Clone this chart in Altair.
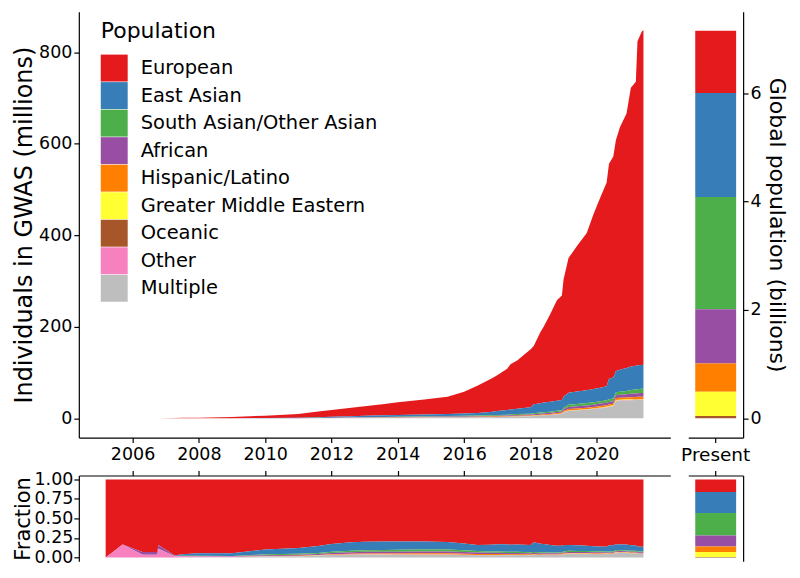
import altair as alt
import pandas as pd

years = [2005.19, 2005.70, 2006.30, 2006.75, 2006.78, 2007.27, 2007.50, 2008.00, 2009.00, 2010.00,
         2011.00, 2011.60, 2012.00, 2012.60, 2013.00, 2013.60, 2014.00, 2014.80, 2015.50, 2016.00,
         2016.40, 2016.80, 2017.00, 2017.30, 2017.40, 2017.60, 2018.00, 2018.10, 2018.30, 2018.40,
         2018.60, 2018.80, 2018.95, 2019.00, 2019.15, 2019.40, 2019.70, 2019.90, 2020.07, 2020.30,
         2020.37, 2020.50, 2020.58, 2020.70, 2020.90, 2021.03, 2021.18, 2021.23, 2021.36, 2021.41]

populations = ["European", "East Asian", "South Asian/Other Asian", "African", "Hispanic/Latino",
               "Greater Middle Eastern", "Oceanic", "Other", "Multiple"]
colors = ["#E41A1C", "#377EB8", "#4DAF4A", "#984EA3", "#FF7F00", "#FFFF33", "#A65628", "#F781BF", "#BEBEBE"]

# cumulative individuals in GWAS (millions)
european = [0.0001, 0.001, 0.0279, 0.0558, 0.084, 0.781, 0.958, 1.231, 2.843, 4.945,
            8.35, 12.83, 14.88, 18.53, 20.76, 24.63, 27.81, 32.58, 37.65, 47.73,
            59.61, 72.07, 78.0, 89.87, 98.69, 105.32, 125.98, 127.21, 155.11, 165.84,
            192.01, 219.62, 227.85, 255.28, 294.23, 317.75, 343.89, 381.03, 409.66, 445.28,
            469.72, 483.07, 504.72, 529.97, 556.32, 608.96, 620.41, 708.37, 728.62, 730.92]
east_asian = [0, 0, 0, 0, 0, 0.003, 0.02, 0.04, 0.10, 0.34,
              0.72, 1.3, 1.8, 2.5, 2.85, 3.4, 3.8, 4.3, 4.6, 5.0,
              5.6, 7.3, 8.8, 10.2, 10.8, 11.6, 14, 20, 20.5, 21,
              21.5, 22, 22.5, 24.5, 26, 27, 28, 29, 29.5, 30.5,
              45, 46, 46.5, 48, 50, 51.5, 52, 52, 52, 52.5]
south_asian = [0, 0, 0, 0, 0, 0, 0.003, 0.005, 0.01, 0.06,
               0.12, 0.2, 0.3, 0.45, 0.55, 0.7, 0.8, 1.0, 1.15, 1.25,
               1.35, 1.5, 1.6, 1.7, 1.8, 1.9, 2.0, 2.1, 2.3, 2.4,
               2.45, 2.5, 2.7, 3.8, 5.0, 5.1, 5.2, 5.3, 5.4, 5.5,
               5.6, 5.8, 6.5, 6.8, 7.4, 8.2, 8.6, 9.0, 9.3, 9.5]
african = [0, 0, 0.00105, 0.0021, 0.005, 0.005, 0.006, 0.007, 0.02, 0.06,
           0.12, 0.2, 0.3, 0.45, 0.55, 0.7, 0.8, 1.0, 1.15, 1.25,
           1.35, 1.5, 1.6, 1.7, 1.8, 1.9, 2.0, 2.1, 2.3, 2.4,
           2.5, 2.6, 2.8, 3.6, 4.6, 4.8, 4.9, 5.0, 5.1, 5.2,
           5.4, 5.6, 6.1, 6.4, 6.8, 7.2, 7.5, 7.8, 8.0, 8.0]
hispanic = [0, 0, 0, 0, 0, 0, 0, 0.002, 0.005, 0.02,
            0.05, 0.08, 0.12, 0.2, 0.25, 0.35, 0.45, 0.55, 0.65, 0.75,
            0.85, 0.95, 1.0, 1.1, 1.15, 1.2, 1.3, 1.35, 1.5, 1.55,
            1.65, 1.8, 1.9, 2.4, 3.0, 3.1, 3.2, 3.3, 3.4, 3.5,
            3.7, 3.9, 4.4, 4.5, 4.6, 4.7, 4.8, 4.9, 5.0, 5.0]
middle_eastern = [0, 0, 0, 0, 0, 0, 0, 0, 0, 0,
                  0, 0.01, 0.01, 0.02, 0.03, 0.04, 0.05, 0.06, 0.07, 0.08,
                  0.09, 0.1, 0.11, 0.12, 0.13, 0.14, 0.15, 0.16, 0.18, 0.19,
                  0.22, 0.25, 0.28, 0.4, 0.55, 0.6, 0.63, 0.66, 0.7, 0.75,
                  0.78, 0.8, 0.88, 0.9, 0.92, 0.95, 0.97, 0.98, 1.0, 1.0]
oceanic = [0, 0, 0, 0, 0, 0, 0, 0, 0, 0,
           0, 0, 0, 0.005, 0.005, 0.01, 0.01, 0.01, 0.02, 0.02,
           0.02, 0.03, 0.03, 0.03, 0.04, 0.04, 0.05, 0.05, 0.06, 0.06,
           0.07, 0.08, 0.09, 0.1, 0.12, 0.13, 0.14, 0.15, 0.16, 0.17,
           0.18, 0.19, 0.22, 0.23, 0.24, 0.25, 0.26, 0.27, 0.28, 0.28]
other = [0, 0.0002, 0.00105, 0.0021, 0.011, 0.011, 0.011, 0.011, 0.012, 0.015,
         0.02, 0.03, 0.04, 0.05, 0.06, 0.07, 0.08, 0.10, 0.11, 0.12,
         0.13, 0.15, 0.16, 0.18, 0.19, 0.2, 0.22, 0.23, 0.25, 0.26,
         0.3, 0.35, 0.38, 0.42, 0.5, 0.52, 0.54, 0.56, 0.58, 0.6,
         0.62, 0.64, 0.68, 0.7, 0.72, 0.74, 0.76, 0.78, 0.8, 0.8]
multiple = [0, 0, 0, 0, 0, 0, 0.002, 0.004, 0.01, 0.06,
            0.12, 0.35, 0.55, 0.8, 0.95, 1.1, 1.2, 1.4, 1.6, 1.8,
            2.0, 2.4, 2.7, 3.1, 3.4, 3.7, 4.3, 4.8, 5.8, 6.3,
            7.3, 8.8, 9.5, 12.5, 16, 17, 18.5, 20, 21.5, 23.5,
            25, 26, 38, 38.5, 39, 39.5, 39.7, 39.9, 40, 40]

# present-day global population (billions)
global_population = [1.15, 1.92, 2.07, 1.0, 0.52, 0.45, 0.04, 0.0, 0.0]

series = [european, east_asian, south_asian, african, hispanic, middle_eastern, oceanic, other, multiple]
n = len(populations)
rows = []
for i, (pop, vals) in enumerate(zip(populations, series)):
    for yr, v in zip(years, vals):
        rows.append({"year": yr, "pop": pop, "value": v, "rank": n - 1 - i})
df = pd.DataFrame(rows)
gdf = pd.DataFrame({"pop": populations, "value": global_population,
                    "rank": [n - 1 - i for i in range(n)], "period": ["Present"] * n})

FONT = "DejaVu Sans"
color_scale = alt.Scale(domain=populations, range=colors)
xscale = alt.Scale(domain=[2004.38, 2022.22], nice=False, zero=False)
year_ticks = list(range(2006, 2021, 2))
order = alt.Order("rank:Q", sort="ascending")

main = alt.Chart(df).mark_area(interpolate="linear").encode(
    x=alt.X("year:Q", scale=xscale,
            axis=alt.Axis(values=year_ticks, format="d", title=None, labelPadding=3)),
    y=alt.Y("value:Q", stack="zero",
            scale=alt.Scale(domain=[-42.3, 888.3], nice=False, zero=False),
            axis=alt.Axis(values=[0, 200, 400, 600, 800], title="Individuals in GWAS (millions)",
                          titlePadding=2)),
    color=alt.Color("pop:N", scale=color_scale,
                    legend=alt.Legend(title="Population", orient="none", legendX=22, legendY=9,
                                      symbolType="square", symbolSize=729, symbolStrokeWidth=0,
                                      symbolOpacity=1, labelFontSize=19.5, titleFontSize=22,
                                      titleFontWeight="normal", titlePadding=12, rowPadding=0.6,
                                      labelOffset=13, labelColor="black", titleColor="black",
                                      labelLimit=400, padding=0, labelFont=FONT, titleFont=FONT)),
    order=order,
).properties(width=593, height=427)

right = alt.Chart(gdf).mark_bar(size=41).encode(
    x=alt.X("period:N", axis=alt.Axis(title=None, labelAngle=0, labelFontSize=18.5, labelPadding=3)),
    y=alt.Y("value:Q", stack="zero",
            scale=alt.Scale(domain=[-0.357, 7.5], nice=False, zero=False),
            axis=alt.Axis(orient="right", values=[0, 2, 4, 6], title="Global population (billions)",
                          titlePadding=3, titleFontSize=22)),
    color=alt.Color("pop:N", scale=color_scale, legend=None),
    order=order,
).properties(width=55, height=427)

frac = alt.Chart(df).mark_area(interpolate="linear").encode(
    x=alt.X("year:Q", scale=xscale,
            axis=alt.Axis(orient="top", values=year_ticks, labels=False, title=None)),
    y=alt.Y("value:Q", stack="normalize",
            scale=alt.Scale(domain=[-0.05, 1.05], nice=False, zero=False),
            axis=alt.Axis(values=[0, 0.25, 0.5, 0.75, 1.0],
                          labelExpr="format(datum.value, '.2f')", title="Fraction",
                          titleFontSize=21, labelPadding=1, titlePadding=0)),
    color=alt.Color("pop:N", scale=color_scale, legend=None),
    order=order,
).properties(width=593, height=86)

fracbar = alt.Chart(gdf).mark_bar(size=41).encode(
    x=alt.X("period:N", axis=alt.Axis(orient="top", labels=False, title=None)),
    y=alt.Y("value:Q", stack="normalize",
            scale=alt.Scale(domain=[-0.05, 1.05], nice=False, zero=False),
            axis=alt.Axis(orient="right", labels=False, ticks=False, title=None)),
    color=alt.Color("pop:N", scale=color_scale, legend=None),
    order=order,
).properties(width=55, height=86)

chart = alt.concat(
    main, right, frac, fracbar, columns=2,
    spacing={"row": 38, "column": 18}, bounds="flush",
).resolve_scale(
    x="independent", y="independent", color="independent"
).properties(
    padding={"left": 4, "top": 3, "right": 4, "bottom": 0}
).configure(
    font=FONT
).configure_view(
    strokeWidth=0
).configure_axis(
    grid=False, domainColor="black", domainWidth=1.2, tickColor="black", tickWidth=1.2,
    tickSize=5, labelFontSize=17.5, labelColor="black", labelFont=FONT,
    titleFontSize=24, titleFontWeight="normal", titleColor="black", titleFont=FONT,
)

chart.save("out.html", embed_options={"renderer": "svg", "actions": False})
